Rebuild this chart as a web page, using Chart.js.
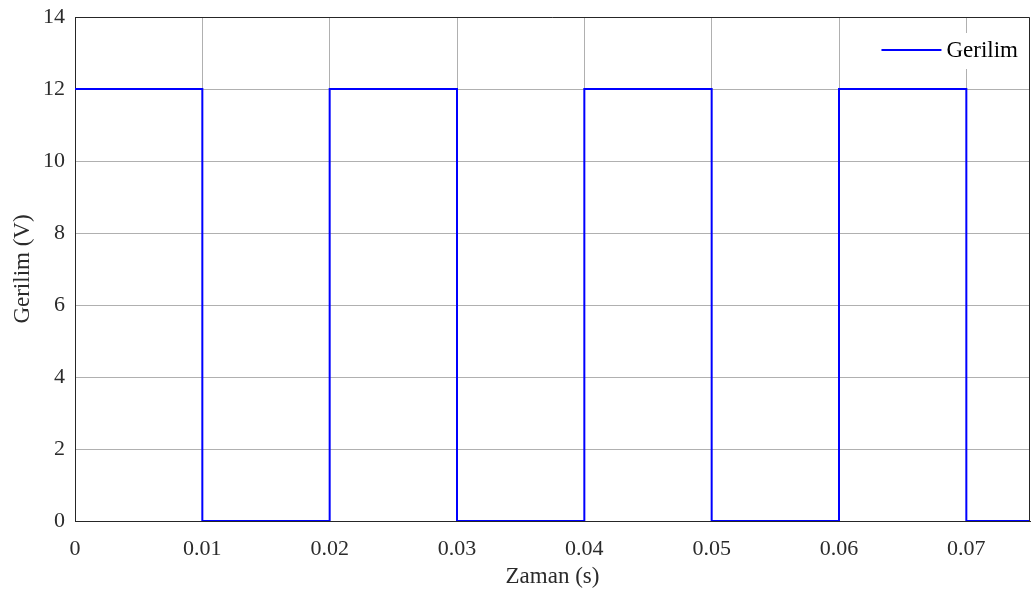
<!DOCTYPE html>
<html>
<head>
<meta charset="utf-8">
<title>Gerilim</title>
<script src="https://cdn.jsdelivr.net/npm/chart.js@4.4.1/dist/chart.umd.min.js"></script>
<style>
  html, body { margin: 0; padding: 0; background: #ffffff; }
  #wrap { width: 1035px; height: 593px; position: relative; }
</style>
</head>
<body>
<div id="wrap"><canvas id="c" width="1035" height="593"></canvas></div>
<script>
// Square-wave voltage: time (s) and voltage (V) pairs
const timeValues    = [0, 0.01, 0.01, 0.02, 0.02, 0.03, 0.03, 0.04, 0.04, 0.05, 0.05, 0.06, 0.06, 0.07, 0.07, 0.075];
const voltageValues = [12, 12,  0,    0,    12,   12,   0,    0,    12,   12,   0,    0,    12,   12,   0,    0];

// Axis ticks
const xTickValues = [0, 0.01, 0.02, 0.03, 0.04, 0.05, 0.06, 0.07];
const yTickValues = [0, 2, 4, 6, 8, 10, 12, 14];

const seriesLabel = 'Gerilim';
const xTitle = 'Zaman (s)';
const yTitle = 'Gerilim (V)';

const FONT = "'Liberation Serif', 'Times New Roman', serif";
const TEXT = '#2b2b2b';
const AXIS = '#262626';
const GRID = '#b0b0b0';

const points = timeValues.map((t, i) => ({ x: t, y: voltageValues[i] }));

// Closes the plot box on the top and right sides
const boxPlugin = {
  id: 'plotBox',
  afterDatasetsDraw(chart) {
    const { ctx, chartArea: a } = chart;
    ctx.save();
    ctx.strokeStyle = AXIS;
    ctx.lineWidth = 1;
    ctx.beginPath();
    ctx.moveTo(Math.round(a.left) + 0.5, Math.round(a.top) + 0.5);
    ctx.lineTo(Math.round(a.right) - 0.5, Math.round(a.top) + 0.5);
    ctx.lineTo(Math.round(a.right) - 0.5, Math.round(a.bottom) + 0.5);
    ctx.stroke();
    ctx.restore();
  }
};

// Legend inside the upper-right corner of the plot area
const insideLegend = {
  id: 'insideLegend',
  afterDatasetsDraw(chart) {
    const { ctx, chartArea: a } = chart;
    const ds = chart.data.datasets[0];
    ctx.save();
    ctx.font = '23px ' + FONT;
    const tw = ctx.measureText(ds.label).width;
    const boxRight = a.right - 6;
    const boxLeft = boxRight - tw - 80;
    const boxTop = a.top + 16;
    const boxBottom = a.top + 52;
    ctx.fillStyle = '#ffffff';
    ctx.fillRect(boxLeft, boxTop, boxRight - boxLeft, boxBottom - boxTop);
    const cy = a.top + 33;
    const textX = boxRight - tw - 6;
    ctx.strokeStyle = ds.borderColor;
    ctx.lineWidth = ds.borderWidth;
    ctx.beginPath();
    ctx.moveTo(textX - 65, cy);
    ctx.lineTo(textX - 5, cy);
    ctx.stroke();
    ctx.fillStyle = '#000000';
    ctx.textBaseline = 'middle';
    ctx.textAlign = 'left';
    ctx.fillText(ds.label, textX, cy + 1);
    ctx.restore();
  }
};

new Chart(document.getElementById('c'), {
  type: 'line',
  data: {
    datasets: [{
      label: seriesLabel,
      data: points,
      borderColor: '#0000ff',
      borderWidth: 2,
      pointRadius: 0,
      fill: false,
      tension: 0
    }]
  },
  options: {
    responsive: false,
    animation: false,
    events: [],
    layout: { padding: { top: 17, right: 5, left: 0, bottom: 0 } },
    plugins: {
      legend: { display: false },
      tooltip: { enabled: false }
    },
    scales: {
      x: {
        type: 'linear',
        min: 0,
        max: 0.075,
        afterBuildTicks(scale) { scale.ticks = xTickValues.map(v => ({ value: v })); },
        afterFit(scale) {
          scale.height = 72;
          scale.paddingLeft = 0;
          scale.paddingRight = 0;
        },
        ticks: {
          padding: 15,
          color: TEXT,
          font: { family: FONT, size: 22 },
          maxRotation: 0,
          autoSkip: false,
          callback: v => String(v)
        },
        grid: { color: GRID, lineWidth: 1, drawTicks: false },
        border: { color: AXIS, width: 1 },
        title: {
          display: true,
          text: xTitle,
          color: TEXT,
          font: { family: FONT, size: 23, lineHeight: 1.2 },
          padding: { top: 0, bottom: 2 }
        }
      },
      y: {
        type: 'linear',
        min: 0,
        max: 14,
        afterBuildTicks(scale) { scale.ticks = yTickValues.map(v => ({ value: v })); },
        afterFit(scale) {
          scale.width = 75;
          scale.paddingTop = 0;
          scale.paddingBottom = 0;
        },
        ticks: {
          padding: 10,
          color: TEXT,
          font: { family: FONT, size: 22 },
          autoSkip: false,
          callback: v => String(v)
        },
        grid: { color: GRID, lineWidth: 1, drawTicks: false },
        border: { color: AXIS, width: 1 },
        title: {
          display: true,
          text: yTitle,
          color: TEXT,
          font: { family: FONT, size: 23, lineHeight: 1.2 },
          padding: { top: 9, bottom: 0 }
        }
      }
    }
  },
  plugins: [boxPlugin, insideLegend]
});
</script>
</body>
</html>
